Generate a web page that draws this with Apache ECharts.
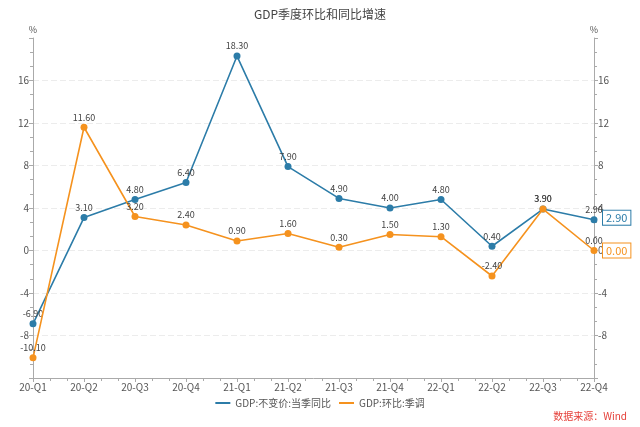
<!DOCTYPE html>
<html><head><meta charset="utf-8">
<script src="https://cdn.jsdelivr.net/npm/echarts@6/dist/echarts.min.js"></script>
<style>html,body{margin:0;padding:0;background:#fff}#c{width:640px;height:427px}</style>
</head><body><div id="c"></div>
<script>
const categories = ['20-Q1','20-Q2','20-Q3','20-Q4','21-Q1','21-Q2','21-Q3','21-Q4','22-Q1','22-Q2','22-Q3','22-Q4'];
const yoyValues = [-6.9, 3.1, 4.8, 6.4, 18.3, 7.9, 4.9, 4.0, 4.8, 0.4, 3.9, 2.9];
const qoqValues = [-10.1, 11.6, 3.2, 2.4, 0.9, 1.6, 0.3, 1.5, 1.3, -2.4, 3.9, 0.0];
const seriesNames = ['GDP:不变价:当季同比', 'GDP:环比:季调'];
const colors = ['#2c7ca8', '#f5921e'];
const font = 'Noto Sans CJK SC';

const toPairs = arr => arr.map((v, i) => [i, v]);
const chart = echarts.init(document.getElementById('c'));

function yAxis(pos) {
  return {
    type: 'value', position: pos, min: -12, max: 20, interval: 4,
    name: '%', nameLocation: 'end', nameGap: 4,
    nameTextStyle: { color: '#555', fontSize: 9, fontFamily: font, align: 'center' },
    axisLine: { show: true, lineStyle: { color: '#aaa' } },
    axisTick: { show: true, length: 4, lineStyle: { color: '#aaa' } },
    minorTick: { show: true, splitNumber: 3, length: 3, lineStyle: { color: '#aaa' } },
    axisLabel: { color: '#555', fontSize: 10, fontFamily: font, margin: 4, showMinLabel: false, showMaxLabel: false },
    splitLine: { show: pos === 'left', showMinLine: false, showMaxLine: false, lineStyle: { color: '#ececec', type: [6, 3] } }
  };
}

function lineSeries(idx, values, yIndex) {
  const c = colors[idx];
  return {
    name: seriesNames[idx], type: 'line', yAxisIndex: yIndex, data: toPairs(values),
    symbol: 'circle', symbolSize: 7, itemStyle: { color: c }, lineStyle: { color: c, width: 1.6 },
    label: { show: true, position: 'top', distance: 2, color: '#444', fontSize: 9, fontFamily: font,
      formatter: p => p.value[1].toFixed(2) },
    endLabel: { show: true, formatter: p => p.value[1].toFixed(2), color: c, fontSize: 11, fontFamily: font,
      backgroundColor: '#fff', borderColor: c, borderWidth: 1, padding: [2, 3, 1, 3], distance: 9,
      offset: [0, idx === 0 ? -2 : 0] },
    z: 3 + idx
  };
}

chart.setOption({
  animation: false,
  color: colors,
  title: { text: 'GDP季度环比和同比增速', left: 'center', top: 3,
    textStyle: { fontSize: 12, fontWeight: 'normal', color: '#444', fontFamily: font } },
  grid: { left: 33, right: 46, top: 38, bottom: 49, containLabel: false },
  xAxis: {
    type: 'value', min: 0, max: categories.length - 1, interval: 1,
    axisLine: { show: true, onZero: false, lineStyle: { color: '#aaa' } },
    axisTick: { show: true, length: 4, lineStyle: { color: '#aaa' } },
    minorTick: { show: true, splitNumber: 3, length: 3, lineStyle: { color: '#aaa' } },
    splitLine: { show: false },
    axisLabel: { color: '#555', fontSize: 10, fontFamily: font, margin: 4,
      formatter: v => categories[Math.round(v)] || '' }
  },
  yAxis: [yAxis('left'), yAxis('right')],
  legend: {
    bottom: 14, left: 'center', itemWidth: 15, itemHeight: 2, itemGap: 8, icon: 'rect',
    textStyle: { color: '#555', fontSize: 10, fontFamily: font },
    data: seriesNames
  },
  graphic: [{ type: 'text', right: 13, bottom: 6,
    style: { text: '数据来源：Wind', fill: '#e5403a', fontSize: 10, fontFamily: font } }],
  series: [lineSeries(0, yoyValues, 0), lineSeries(1, qoqValues, 0)]
});
</script></body></html>
